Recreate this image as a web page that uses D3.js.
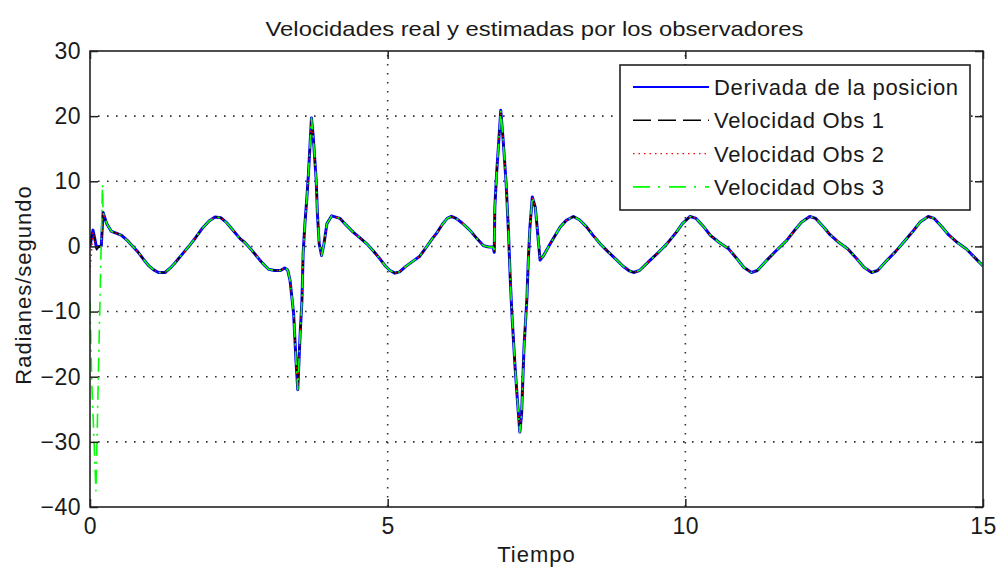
<!DOCTYPE html>
<html>
<head>
<meta charset="utf-8">
<script src="https://cdn.jsdelivr.net/npm/d3@7"></script>
<style>
  body { margin: 0; background: #fff; }
  svg { display: block; }
  text { font-family: "Liberation Sans", Arial, sans-serif; fill: #1a1a1a; }
</style>
</head>
<body>
<svg id="chart" width="997" height="573"></svg>
<script>
// Shared response after the start-up transient (time in s, velocity in rad/s)
const tiempoComun = [
  0.22, 0.28, 0.36, 0.45, 0.53, 0.64, 0.72, 0.81, 0.90, 0.98, 1.07, 1.15, 1.26, 1.35, 1.43, 1.54, 1.65, 1.77, 1.88, 2.00,
  2.10, 2.20, 2.30, 2.42, 2.52, 2.60, 2.70, 2.80, 2.90, 3.00, 3.10, 3.20, 3.27, 3.32, 3.36, 3.42, 3.46, 3.49, 3.53, 3.56,
  3.58, 3.61, 3.64, 3.67, 3.70, 3.72, 3.75, 3.80, 3.82, 3.85, 3.89, 3.93, 3.98, 4.06, 4.20, 4.30, 4.42, 4.55, 4.65, 4.76,
  4.87, 4.96, 5.04, 5.12, 5.20, 5.30, 5.42, 5.54, 5.65, 5.75, 5.82, 5.92, 6.00, 6.07, 6.15, 6.25, 6.38, 6.50, 6.61, 6.70,
  6.77, 6.79, 6.80, 6.83, 6.86, 6.90, 6.94, 6.99, 7.03, 7.06, 7.09, 7.14, 7.18, 7.22, 7.25, 7.29, 7.34, 7.36, 7.39, 7.43,
  7.48, 7.51, 7.56, 7.62, 7.73, 7.82, 7.90, 8.00, 8.12, 8.22, 8.34, 8.45, 8.57, 8.70, 8.85, 8.95, 9.05, 9.13, 9.23, 9.41,
  9.55, 9.69, 9.85, 9.95, 10.08, 10.18, 10.32, 10.42, 10.57, 10.72, 10.86, 10.98, 11.11, 11.21, 11.37, 11.52, 11.70, 11.83, 11.95, 12.09,
  12.19, 12.33, 12.43, 12.58, 12.73, 12.88, 13.00, 13.13, 13.23, 13.38, 13.53, 13.68, 13.83, 13.95, 14.08, 14.18, 14.32, 14.42, 14.57, 14.72,
  14.85, 15.00
];
const velocidadComun = [
  5.2, 3.5, 2.3, 2.0, 1.7, 0.8, 0.0, -0.9, -2.0, -2.9, -3.6, -4.0, -4.0, -3.3, -2.5, -1.3, -0.1, 1.3, 2.7, 3.9,
  4.5, 4.4, 3.6, 2.3, 1.2, 0.6, -0.4, -1.5, -2.6, -3.5, -3.7, -3.7, -3.3, -3.6, -5.2, -10.3, -17.5, -22.0, -13.4, -8.3,
  -1.1, 3.5, 7.1, 11.2, 16.3, 19.7, 16.8, 10.1, 5.0, 0.4, -1.4, 0.4, 3.5, 4.7, 4.3, 3.3, 2.2, 1.2, 0.4, -0.7,
  -1.9, -3.0, -3.7, -4.1, -3.9, -3.1, -2.3, -1.5, -0.1, 1.2, 2.0, 3.4, 4.3, 4.6, 4.3, 3.6, 2.5, 1.2, 0.1, -0.1,
  -0.1, -0.9, 6.0, 11.2, 15.3, 20.9, 16.3, 9.7, 2.0, -5.2, -10.9, -18.5, -23.7, -28.5, -25.7, -15.5, -7.8, -2.6, 3.0, 7.6,
  6.0, 3.0, -2.1, -1.4, 0.4, 1.8, 3.0, 4.0, 4.6, 4.1, 3.0, 1.7, 0.4, -0.8, -2.1, -3.0, -3.7, -4.0, -3.7, -2.1,
  -0.9, 0.4, 2.2, 3.5, 4.6, 4.3, 2.9, 1.7, 0.6, -0.3, -1.8, -3.2, -4.0, -3.7, -2.1, -0.7, 0.9, 2.4, 3.7, 4.6,
  4.3, 2.9, 1.8, 0.6, -0.4, -1.9, -3.2, -4.0, -3.7, -2.2, -0.8, 0.8, 2.4, 3.8, 4.6, 4.3, 2.9, 1.8, 0.6, -0.4,
  -1.6, -3.0
];

// Start-up segment of each trace (t < 0.22 s)
const tiempoInicioDerivada = [0.00, 0.03, 0.05, 0.08, 0.11, 0.15, 0.19];
const velocidadInicioDerivada = [0.0, 1.6, 2.5, 1.2, -0.2, 0.0, 0.1];
const tiempoInicioObs1 = [0.00, 0.03, 0.05, 0.08, 0.11, 0.15, 0.19];
const velocidadInicioObs1 = [0.3, 1.8, 2.4, 1.0, -0.5, 0.0, 0.0];
const tiempoInicioObs2 = [0.00, 0.02, 0.05, 0.09, 0.12, 0.19];
const velocidadInicioObs2 = [-4.0, -1.5, 2.2, 0.5, -0.3, 0.0];
const tiempoInicioObs3 = [0.00, 0.03, 0.10, 0.14, 0.18, 0.21];
const velocidadInicioObs3 = [-8.5, -21.0, -37.5, -20.0, -3.0, 9.5];

const nombresSeries = ["Derivada de la posicion", "Velocidad Obs 1", "Velocidad Obs 2", "Velocidad Obs 3"];
const ticksX = [0, 5, 10, 15];
const ticksY = [-40, -30, -20, -10, 0, 10, 20, 30];

const titulo = "Velocidades real y estimadas por los observadores";
const etiquetaX = "Tiempo";
const etiquetaY = "Radianes/segundo";

// Build point lists for each trace
function serie(tIni, vIni) {
  const pts = tIni.map((t, i) => [t, vIni[i]]);
  return pts.concat(tiempoComun.map((t, i) => [t, velocidadComun[i]]));
}
const series = [
  { nombre: nombresSeries[0], datos: serie(tiempoInicioDerivada, velocidadInicioDerivada), color: "#0000ff", ancho: 3, trazo: null, anchoLeyenda: 2 },
  { nombre: nombresSeries[1], datos: serie(tiempoInicioObs1, velocidadInicioObs1), color: "#000000", ancho: 1.6, trazo: "10,6", anchoLeyenda: 1.6, trazoLeyenda: "18,7" },
  { nombre: nombresSeries[2], datos: serie(tiempoInicioObs2, velocidadInicioObs2), color: "#ff0000", ancho: 1.4, trazo: "1.5,4", anchoLeyenda: 1.4, trazoLeyenda: "1.5,4" },
  { nombre: nombresSeries[3], datos: serie(tiempoInicioObs3, velocidadInicioObs3), color: "#00ff00", ancho: 1.6, trazo: "14,6,2,6", anchoLeyenda: 1.8, trazoLeyenda: "17,8,2,9" }
];

const svg = d3.select("#chart");
const izq = 90, der = 983, arriba = 51, abajo = 507;

const x = d3.scaleLinear().domain([0, 15]).range([izq, der]);
const y = d3.scaleLinear().domain([-40, 30]).range([abajo, arriba]);

// Dotted grid
const grid = svg.append("g");
grid.selectAll("line.gx").data(ticksX.slice(1, -1)).join("line")
  .attr("x1", d => x(d)).attr("x2", d => x(d))
  .attr("y1", arriba).attr("y2", abajo)
  .attr("stroke", "#333").attr("stroke-width", 1.6)
  .attr("stroke-dasharray", "1.6,7.4").attr("stroke-dashoffset", -4);
grid.selectAll("line.gy").data(ticksY.slice(1, -1)).join("line")
  .attr("x1", izq).attr("x2", der)
  .attr("y1", d => y(d)).attr("y2", d => y(d))
  .attr("stroke", "#333").attr("stroke-width", 1.6)
  .attr("stroke-dasharray", "1.6,7.4").attr("stroke-dashoffset", -8);

// Traces
svg.append("defs").append("clipPath").attr("id", "area")
  .append("rect").attr("x", izq).attr("y", arriba).attr("width", der - izq).attr("height", abajo - arriba);

const linea = d3.line().x(d => x(d[0])).y(d => y(d[1]));
const trazas = svg.append("g").attr("clip-path", "url(#area)");
series.forEach(s => {
  trazas.append("path")
    .attr("d", linea(s.datos))
    .attr("fill", "none")
    .attr("stroke", s.color)
    .attr("stroke-width", s.ancho)
    .attr("stroke-linejoin", "round")
    .attr("stroke-dasharray", s.trazo);
});

// Axes: inward ticks on all four sides
const tick = 8;
const ejeIzq = d3.axisLeft(y).tickValues(ticksY).tickSize(-tick).tickPadding(9).tickFormat(d3.format("d"));
const ejeDer = d3.axisRight(y).tickValues(ticksY).tickSize(-tick).tickFormat("");
const ejeAbajo = d3.axisBottom(x).tickValues(ticksX).tickSize(-tick).tickPadding(11).tickFormat(d3.format("d"));
const ejeArriba = d3.axisTop(x).tickValues(ticksX).tickSize(-tick).tickFormat("");

function estilo(g) {
  g.select(".domain").remove();
  g.selectAll(".tick line").attr("stroke", "#222").attr("stroke-width", 1.5);
  g.selectAll(".tick text").attr("font-size", 23).attr("fill", "#1a1a1a")
    .style("font-family", "'Liberation Sans', Arial, sans-serif").style("letter-spacing", "0.5px");
}
svg.append("g").attr("transform", `translate(${izq},0)`).call(ejeIzq).call(estilo);
svg.append("g").attr("transform", `translate(${der},0)`).call(ejeDer).call(estilo);
svg.append("g").attr("transform", `translate(0,${abajo})`).call(ejeAbajo).call(estilo);
svg.append("g").attr("transform", `translate(0,${arriba})`).call(ejeArriba).call(estilo);

svg.append("rect").attr("x", izq).attr("y", arriba).attr("width", der - izq).attr("height", abajo - arriba)
  .attr("fill", "none").attr("stroke", "#222").attr("stroke-width", 1.6);

// Title and axis labels
svg.append("text").attr("x", (izq + der) / 2 - 2).attr("y", 36).attr("text-anchor", "middle")
  .attr("font-size", 21).attr("textLength", 538).attr("lengthAdjust", "spacingAndGlyphs").text(titulo);
svg.append("text").attr("x", (izq + der) / 2).attr("y", 562).attr("text-anchor", "middle")
  .attr("font-size", 22).style("letter-spacing", "1px").text(etiquetaX);
svg.append("text").attr("transform", `translate(31,${(arriba + abajo) / 2 + 6}) rotate(-90)`).attr("text-anchor", "middle")
  .attr("font-size", 22).style("letter-spacing", "1px").text(etiquetaY);

// Legend
const ley = svg.append("g");
ley.append("rect").attr("x", 620).attr("y", 65).attr("width", 350).attr("height", 145)
  .attr("fill", "#fff").attr("stroke", "#222").attr("stroke-width", 1.6);
series.forEach((s, i) => {
  const cy = 87 + i * 33.3;
  ley.append("line").attr("x1", 633).attr("x2", 709).attr("y1", cy).attr("y2", cy)
    .attr("stroke", s.color).attr("stroke-width", s.anchoLeyenda)
    .attr("stroke-dasharray", s.trazoLeyenda || null);
  ley.append("text").attr("x", 714).attr("y", cy + 8).attr("font-size", 22)
    .style("letter-spacing", "0.7px").text(s.nombre);
});
</script>
</body>
</html>
